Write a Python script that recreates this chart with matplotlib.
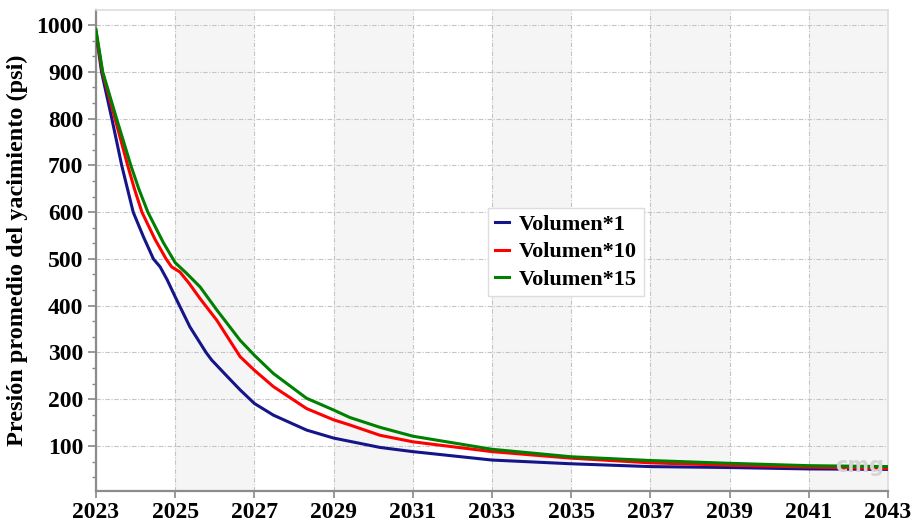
import matplotlib
matplotlib.use("Agg")
import matplotlib.pyplot as plt
from matplotlib.ticker import MultipleLocator, AutoMinorLocator

plt.rcParams['font.family'] = ['Liberation Serif', 'DejaVu Serif']
plt.rcParams['font.weight'] = 'bold'

# presion promedio (psi) por caso de volumen
t_v1 = [2023.00, 2023.14, 2023.40, 2023.65, 2023.94, 2024.20, 2024.45, 2024.62,
        2024.80, 2025.00, 2025.37, 2025.78, 2025.92, 2026.30, 2026.64, 2027.00,
        2027.48, 2028.32, 2029.00, 2030.17, 2031.00, 2033.00, 2035.00, 2037.00,
        2039.00, 2041.00, 2043.00]
p_v1 = [985, 900, 800, 700, 600, 547, 500, 483,
        455, 419, 355, 300, 284, 250, 220, 191,
        166, 134, 117, 97, 88, 70, 62, 56,
        54, 51, 50]

t_v10 = [2023.00, 2023.16, 2023.48, 2023.80, 2023.97, 2024.16, 2024.49, 2024.77,
         2024.91, 2025.12, 2025.35, 2025.63, 2026.05, 2026.33, 2026.64, 2027.00,
         2027.48, 2028.32, 2029.00, 2029.41, 2030.17, 2031.00, 2033.00, 2035.00,
         2037.00, 2039.00, 2041.00, 2043.00]
p_v10 = [985, 900, 800, 700, 650, 600, 542, 500,
         483, 472, 448, 415, 369, 332, 291, 262,
         227, 180, 156, 145, 123, 109, 88, 74,
         64, 59, 55, 52]

t_v15 = [2023.00, 2023.17, 2023.52, 2023.88, 2024.08, 2024.31, 2024.70, 2025.00,
         2025.29, 2025.63, 2026.05, 2026.64, 2027.00, 2027.48, 2028.32, 2029.00,
         2029.41, 2030.17, 2031.00, 2033.00, 2035.00, 2037.00, 2039.00, 2041.00,
         2043.00]
p_v15 = [990, 900, 800, 700, 650, 600, 535, 492,
         469, 440, 391, 326, 294, 255, 202, 177,
         161, 140, 121, 93, 77, 69, 63, 58,
         56]

labels = ['Volumen*1', 'Volumen*10', 'Volumen*15']
colors = ['#15158a', '#ff0000', '#008000']
x_ticks = list(range(2023, 2044, 2))

fig = plt.figure(figsize=(9.14, 5.29), dpi=100)
ax = fig.add_axes([0.105, 0.072, 0.8665, 0.909])

# bandas grises alternadas
for i, x0 in enumerate(x_ticks[:-1]):
    if i % 2 == 1:
        ax.axvspan(x0, x0 + 2, color='#f5f5f5', zorder=0, lw=0)

for t, p, lab, c in zip([t_v1, t_v10, t_v15], [p_v1, p_v10, p_v15], labels, colors):
    ax.plot(t, p, color=c, lw=2.2, label=lab, zorder=3, solid_joinstyle='round')

ax.set_xlim(2023, 2043)
ax.set_ylim(4, 1032)
ax.set_xticks(x_ticks)
ax.yaxis.set_major_locator(MultipleLocator(100))
ax.yaxis.set_minor_locator(AutoMinorLocator(3))
ax.set_yticks(range(100, 1001, 100))
ax.tick_params(axis='both', labelsize=17, colors='#888888', labelcolor='black', width=1.2)
ax.tick_params(axis='y', which='major', length=6, pad=3)
ax.tick_params(axis='y', which='minor', length=3, width=1, color='#888888')
ax.tick_params(axis='x', length=5, pad=3)

ax.grid(True, which='major', ls=(0, (4, 1.5, 1, 1.5)), color='#c4c4c4', lw=0.8, zorder=1)

for s in ['left', 'bottom']:
    ax.spines[s].set_color('#8c8c8c')
    ax.spines[s].set_linewidth(1.6)
for s in ['top', 'right']:
    ax.spines[s].set_color('#dddddd')
    ax.spines[s].set_linewidth(1.2)

ax.set_ylabel('Presión promedio del yacimiento (psi)', fontsize=17.5, fontweight='bold', labelpad=6)

leg = ax.legend(loc='upper left', bbox_to_anchor=(488 / 914, 1 - 208 / 529),
                bbox_transform=fig.transFigure, borderaxespad=0, fontsize=16,
                handlelength=0.65, handletextpad=0.45, borderpad=0.3, labelspacing=0.3,
                fancybox=False, framealpha=1, edgecolor='#dddddd')
leg.get_frame().set_linewidth(1.0)

ax.text(0.995, 0.03, 'cmg', transform=ax.transAxes, ha='right', va='bottom',
        fontsize=15, color='#d4d4d4', family='DejaVu Sans', zorder=4)

fig.savefig('out.png', dpi=100)
